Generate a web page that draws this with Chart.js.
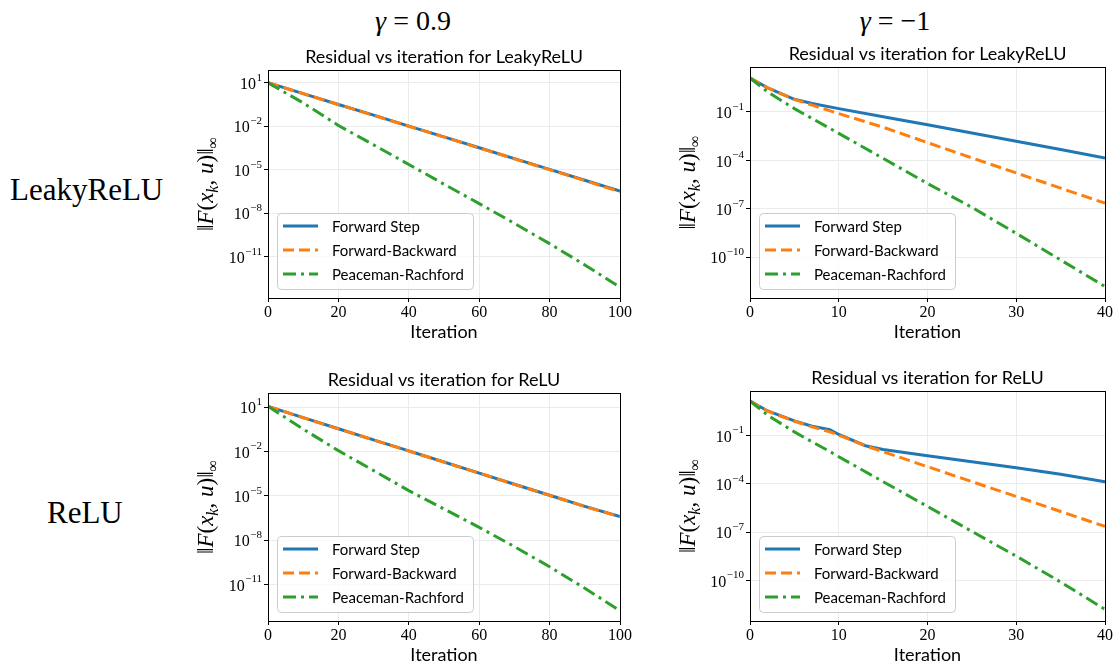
<!DOCTYPE html>
<html>
<head>
<meta charset="utf-8">
<script src="https://cdn.jsdelivr.net/npm/chart.js"></script>
<style>
  body { margin: 0; background: #fff; }
  #page { position: relative; width: 1115px; height: 664px; overflow: hidden; background: #fff; }
  canvas { position: absolute; left: 0; top: 0; }
  .lbl { position: absolute; font-family: "Liberation Serif", serif; color: #000; white-space: nowrap; }
  .row { font-size: 31px; line-height: 31px; }
  .col { font-size: 28px; line-height: 28px; width: 200px; text-align: center; }
</style>
</head>
<body>
<div id="page">
  <div class="lbl col" style="left:313px; top:7px;"><i>γ</i> = 0.9</div>
  <div class="lbl col" style="left:795px; top:7px;"><i>γ</i> = −1</div>
  <div class="lbl row" style="left:10px; top:174px;">LeakyReLU</div>
  <div class="lbl row" style="left:47px; top:497px;">ReLU</div>
  <canvas id="tl" width="1115" height="664"></canvas>
  <canvas id="tr" width="1115" height="664"></canvas>
  <canvas id="bl" width="1115" height="664"></canvas>
  <canvas id="br" width="1115" height="664"></canvas>
</div>
<script>
// gamma = 0.9, iterations 0..100
var itersA = [0, 10, 20, 30, 40, 50, 60, 70, 80, 90, 100];
var fsLeakyA = [10, 1.78, 0.316, 0.0575, 0.0102, 1.82e-3, 3.24e-4, 5.75e-5, 1.05e-5, 1.86e-6, 3.31e-7];
var fbLeakyA = [10, 1.75, 0.31, 0.056, 0.0100, 1.78e-3, 3.16e-4, 5.6e-5, 1.0e-5, 1.78e-6, 3.0e-7];
var prLeakyA = [10, 0.4, 0.0112, 5.2e-4, 2.3e-5, 1.0e-6, 4.6e-8, 2.0e-9, 7.9e-11, 2.7e-12, 7.9e-14];
var fsReluA = [11.2, 1.9, 0.34, 0.06, 0.0107, 1.9e-3, 3.4e-4, 6.0e-5, 1.07e-5, 1.9e-6, 3.8e-7];
var fbReluA = [11.2, 1.88, 0.335, 0.059, 0.0105, 1.87e-3, 3.35e-4, 5.9e-5, 1.05e-5, 1.87e-6, 3.7e-7];
var prReluA = [11.2, 0.32, 0.0112, 5.0e-4, 2.2e-5, 1.26e-6, 7.2e-8, 3.6e-9, 1.55e-10, 5.4e-12, 1.66e-13];

// gamma = -1, iterations 0..40
var itersB = [0, 2, 5, 7, 10, 15, 20, 25, 30, 35, 40];
var fsLeakyB = [12.6, 3.1, 0.6, 0.33, 0.16, 0.05, 0.0158, 5.0e-3, 1.51e-3, 4.7e-4, 1.41e-4];
var fbLeakyB = [12.6, 3.1, 0.59, 0.26, 0.079, 0.0112, 1.26e-3, 1.41e-4, 1.66e-5, 1.9e-6, 2.24e-7];
var prLeakyB = [12.6, 1.7, 0.16, 0.039, 4.7e-3, 1.32e-4, 3.7e-6, 1.23e-7, 3.0e-9, 6.8e-11, 1.55e-12];

var itersBR = [0, 2, 5, 7, 9, 10, 13, 15, 20, 25, 30, 35, 40];
var fsReluB = [13.8, 3.3, 0.8, 0.37, 0.23, 0.115, 0.023, 0.0135, 5.5e-3, 2.34e-3, 1.0e-3, 3.9e-4, 1.35e-4];
var fbReluB = [13.8, 3.2, 0.76, 0.34, 0.166, 0.105, 0.023, 9.8e-3, 1.15e-3, 1.35e-4, 1.62e-5, 1.9e-6, 2.24e-7];
var prReluB = [13.8, 1.78, 0.166, 0.04, 0.01, 4.8e-3, 5.6e-4, 1.35e-4, 3.9e-6, 1.1e-7, 3.2e-9, 7.9e-11, 1.58e-12];

var yTicksA = [1e1, 1e-2, 1e-5, 1e-8, 1e-11];
var yTicksB = [1e-1, 1e-4, 1e-7, 1e-10];

var seriesNames = ['Forward Step', 'Forward-Backward', 'Peaceman-Rachford'];
var seriesColors = ['#1f77b4', '#ff7f0e', '#2ca02c'];
var seriesDashes = [[], [11, 5], [13, 5, 3, 5]];

function supText(v) {
  var e = Math.round(Math.log10(v));
  return e < 0 ? '\u2212' + (-e) : String(e);
}

function drawYLabel(ctx, cx, cy) {
  var parts = [
    ['\u2016', 0, 0], ['F', 1, 0], ['(', 0, 0], ['x', 1, 0], ['k', 1, 1],
    [', ', 0, 0], ['u', 1, 0], [')', 0, 0], ['\u2016', 0, 0], ['\u221E', 0, 1]
  ];
  function font(p) {
    return (p[1] ? 'italic ' : '') + (p[2] ? '16px' : '23px') + ' "Liberation Serif"';
  }
  var total = 0;
  parts.forEach(function (p) { ctx.font = font(p); total += ctx.measureText(p[0]).width; });
  ctx.save();
  ctx.translate(cx, cy);
  ctx.rotate(-Math.PI / 2);
  ctx.fillStyle = '#000';
  ctx.textBaseline = 'alphabetic';
  ctx.textAlign = 'left';
  var x = -total / 2;
  parts.forEach(function (p) {
    ctx.font = font(p);
    ctx.fillText(p[0], x, 6 + (p[2] ? 5 : 0));
    x += ctx.measureText(p[0]).width;
  });
  ctx.restore();
}

var decor = {
  id: 'decor',
  afterDraw: function (chart, args, opts) {
    var ctx = chart.ctx, a = chart.chartArea;
    var xs = chart.scales.x, ys = chart.scales.y;
    ctx.save();
    // spines
    ctx.strokeStyle = '#000';
    ctx.lineWidth = 1;
    ctx.strokeRect(Math.round(a.left) + 0.5, Math.round(a.top) + 0.5,
      Math.round(a.right - a.left), Math.round(a.bottom - a.top));

    // x tick labels
    ctx.fillStyle = '#000';
    ctx.font = '16px "Liberation Serif"';
    ctx.textAlign = 'center';
    ctx.textBaseline = 'middle';
    xs.ticks.forEach(function (t) {
      ctx.fillText(String(t.value), xs.getPixelForValue(t.value), a.bottom + 15);
    });

    // y tick labels
    ys.ticks.forEach(function (t) {
      var py = ys.getPixelForValue(t.value);
      var ex = supText(t.value);
      ctx.font = '11px "Liberation Serif"';
      var ew = ctx.measureText(ex).width;
      var xe = a.left - 6;
      ctx.textAlign = 'left';
      ctx.textBaseline = 'alphabetic';
      ctx.fillText(ex, xe - ew, py - 2);
      ctx.font = '16px "Liberation Serif"';
      ctx.textAlign = 'right';
      ctx.textBaseline = 'middle';
      ctx.fillText('10', xe - ew - 0.5, py + 2);
    });

    // titles
    ctx.textAlign = 'center';
    ctx.textBaseline = 'middle';
    ctx.font = '18px Lato';
    ctx.fillText(opts.title, (a.left + a.right) / 2, a.top - 13);
    ctx.font = '18px Lato';
    ctx.fillText('Iteration', (a.left + a.right) / 2, a.bottom + 34);
    drawYLabel(ctx, a.left - 61, (a.top + a.bottom) / 2);

    // legend
    var bx = Math.round(a.left) + 9, bw = 196, bh = 76, by = Math.round(a.bottom) - 9 - bh;
    ctx.beginPath();
    var r = 4;
    ctx.moveTo(bx + r, by + 0.5);
    ctx.arcTo(bx + bw + 0.5, by + 0.5, bx + bw + 0.5, by + bh + 0.5, r);
    ctx.arcTo(bx + bw + 0.5, by + bh + 0.5, bx + 0.5, by + bh + 0.5, r);
    ctx.arcTo(bx + 0.5, by + bh + 0.5, bx + 0.5, by + 0.5, r);
    ctx.arcTo(bx + 0.5, by + 0.5, bx + bw + 0.5, by + 0.5, r);
    ctx.closePath();
    ctx.fillStyle = 'rgba(255,255,255,0.8)';
    ctx.fill();
    ctx.strokeStyle = '#cccccc';
    ctx.stroke();
    chart.data.datasets.forEach(function (ds, i) {
      var yy = by + 13 + i * 24;
      ctx.beginPath();
      ctx.setLineDash(ds.borderDash);
      ctx.strokeStyle = ds.borderColor;
      ctx.lineWidth = 3;
      ctx.moveTo(bx + 6, yy);
      ctx.lineTo(bx + 41, yy);
      ctx.stroke();
      ctx.setLineDash([]);
      ctx.fillStyle = '#000';
      ctx.font = '15px Lato';
      ctx.textAlign = 'left';
      ctx.textBaseline = 'middle';
      ctx.fillText(ds.label, bx + 55, yy + 1);
    });
    ctx.restore();
  }
};

function makeChart(id, cfg) {
  var area = cfg.area;
  var datasets = [cfg.fs, cfg.fb, cfg.pr].map(function (vals, i) {
    return {
      label: seriesNames[i],
      data: cfg.iters.map(function (x, j) { return { x: x, y: vals[j] }; }),
      borderColor: seriesColors[i],
      backgroundColor: seriesColors[i],
      borderDash: seriesDashes[i],
      borderWidth: 3,
      pointRadius: 0,
      tension: 0,
      fill: false,
      order: 3 - i
    };
  });
  var ctx = document.getElementById(id).getContext('2d');
  return new Chart(ctx, {
    type: 'line',
    data: { datasets: datasets },
    options: {
      responsive: false,
      animation: false,
      events: [],
      layout: {
        padding: { left: area[0] - 10, top: area[1], right: 1115 - area[2], bottom: 664 - area[3] - 10 }
      },
      plugins: {
        legend: { display: false },
        tooltip: { enabled: false },
        decor: { title: cfg.title }
      },
      scales: {
        x: {
          type: 'linear', min: 0, max: cfg.xMax,
          ticks: { display: false, stepSize: cfg.xStep },
          grid: { color: '#ebebeb', tickColor: '#000', tickLength: 4 },
          border: { color: '#000', width: 1 },
          afterFit: function (s) { s.height = 10; }
        },
        y: {
          type: 'logarithmic',
          min: Math.pow(10, cfg.yLog[0]), max: Math.pow(10, cfg.yLog[1]),
          ticks: { display: false },
          grid: { color: '#ebebeb', tickColor: '#000', tickLength: 4 },
          border: { color: '#000', width: 1 },
          afterBuildTicks: function (s) { s.ticks = cfg.yTicks.map(function (v) { return { value: v }; }); },
          afterFit: function (s) { s.width = 10; }
        }
      }
    },
    plugins: [decor]
  });
}

makeChart('tl', { title: 'Residual vs iteration for LeakyReLU', area: [268, 70, 620, 298],
  iters: itersA, fs: fsLeakyA, fb: fbLeakyA, pr: prLeakyA, xMax: 100, xStep: 20, yLog: [-13.85, 1.876], yTicks: yTicksA });
makeChart('tr', { title: 'Residual vs iteration for LeakyReLU', area: [750, 67, 1105, 298],
  iters: itersB, fs: fsLeakyB, fb: fbLeakyB, pr: prLeakyB, xMax: 40, xStep: 10, yLog: [-12.49, 1.78], yTicks: yTicksB });
makeChart('bl', { title: 'Residual vs iteration for ReLU', area: [268, 393, 620, 621],
  iters: itersA, fs: fsReluA, fb: fbReluA, pr: prReluA, xMax: 100, xStep: 20, yLog: [-13.48, 1.95], yTicks: yTicksA });
makeChart('br', { title: 'Residual vs iteration for ReLU', area: [750, 391, 1105, 621],
  iters: itersBR, fs: fsReluB, fb: fbReluB, pr: prReluB, xMax: 40, xStep: 10, yLog: [-12.47, 1.76], yTicks: yTicksB });
</script>
</body>
</html>
